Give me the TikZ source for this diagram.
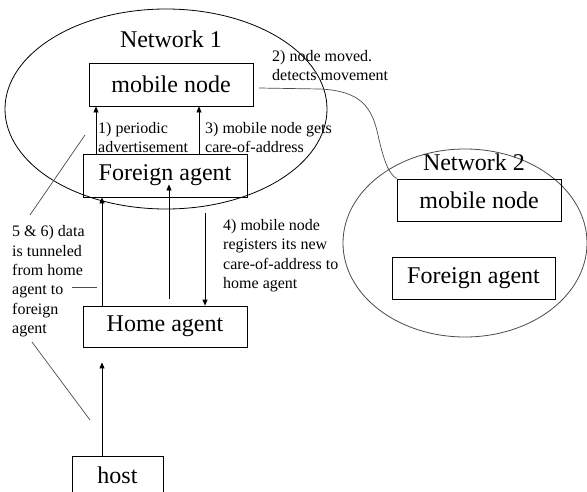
\documentclass[tikz,border=0pt]{standalone}
\usepackage{fontspec}
\setmainfont{Liberation Serif}
\usetikzlibrary{arrows.meta}
\begin{document}
\begin{tikzpicture}[x=1pt,y=-1pt,
  box/.style={draw=black, line width=0.8pt, inner sep=0pt, font=\fontsize{24}{28}\selectfont},
  title/.style={inner sep=0pt, font=\fontsize{24}{28}\selectfont},
  lbl/.style={anchor=north west, inner sep=0pt, align=left, font=\fontsize{16}{19.3}\selectfont},
  arr/.style={line width=0.8pt, -{Triangle[length=6pt,width=5pt]}},
  thinline/.style={line width=0.7pt, draw=black!70},
  net/.style={line width=0.8pt}]
\clip (0,0) rectangle (587,491);
\fill[white] (0,0) rectangle (587,491);
% networks
\draw[net] (166,109) ellipse [x radius=161, y radius=100];
\draw[net, draw=black!70] (465,243) ellipse [x radius=122, y radius=94];
\node[title] (n1) at (171,39.5) {Network 1};
\node[title] (n2) at (474,162) {Network 2};
% boxes
\node[box, minimum width=164pt, minimum height=43pt] (mn1) at (171,84.5) {mobile node};
\node[box, minimum width=164pt, minimum height=43pt] (fa1) at (165,175.5) {Foreign agent};
\node[box, minimum width=164pt, minimum height=41pt] (ha) at (165,326.5) {Home agent};
\node[box, minimum width=164pt, minimum height=42pt] (mn2) at (479,200) {mobile node};
\node[box, minimum width=163pt, minimum height=42pt] (fa2) at (473.5,278) {Foreign agent};
\node[box, minimum width=91pt, minimum height=38pt] (host) at (117.5,475) {host};
% x positions of arrows
\coordinate (x1) at (96,0);
\coordinate (x3) at (199,0);
\coordinate (x5) at (102,0);
\coordinate (xm) at (169,0);
\coordinate (x4) at (205,0);
\draw[arr] (fa1.north -| x1) -- (mn1.south -| x1);
\draw[arr] (fa1.north -| x3) -- (mn1.south -| x3);
\draw[arr] (ha.north -| x5) -- (fa1.south -| x5);
\draw[arr, shorten <=7pt, shorten >=-13pt] (ha.north -| xm) -- (fa1.south -| xm);
\draw[arr, shorten <=16pt] (fa1.south -| x4) -- (ha.north -| x4);
\draw[arr, shorten >=15pt] (host.north -| x5) -- (ha.south -| x5);
% movement curve
\coordinate (c2) at (259,88);
\draw[thinline] (c2) -- (320,89) .. controls (362,91) and (372,108) .. (378,135)
  .. controls (384,162) and (389,174) .. (mn2.north west);
% pointer lines
\coordinate (d1a) at (85,135);
\coordinate (d1b) at (30,215);
\coordinate (d2a) at (32,342);
\coordinate (d2b) at (90,420);
\coordinate (d3a) at (72,287);
\coordinate (d3b) at (97,287);
\draw[thinline] (d1a) -- (d1b);
\draw[thinline] (d2a) -- (d2b);
\draw[thinline] (d3a) -- (d3b);
% labels
\node[lbl] (l1) at (98,122.3) {1) periodic\\advertisement};
\node[lbl] (l2) at (272,50) {2) node moved.\\detects movement};
\node[lbl] (l3) at (205,122.3) {3) mobile node gets\\care-of-address};
\node[lbl] (l4) at (223,219.3) {4) mobile node\\registers its new\\care-of-address to\\home agent};
\node[lbl] (l5) at (12,225.6) {5 \& 6) data\\is tunneled\\from home\\agent to\\foreign\\agent};
\end{tikzpicture}
\end{document}
